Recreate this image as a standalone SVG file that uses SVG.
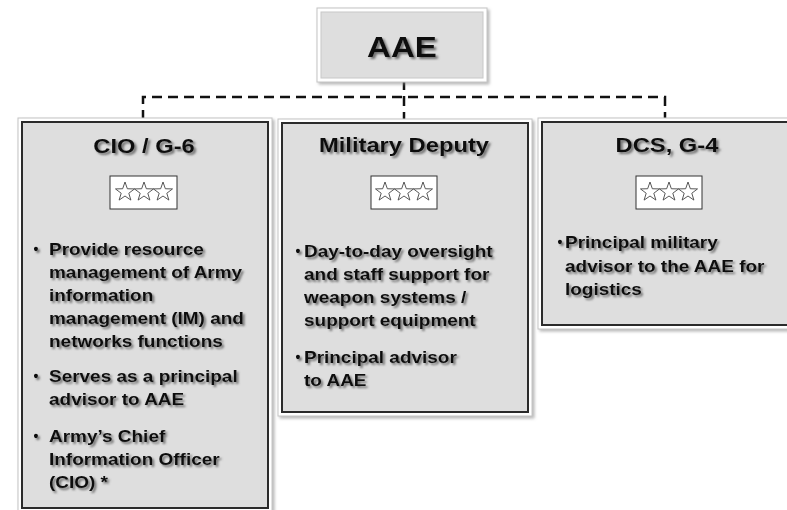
<svg xmlns="http://www.w3.org/2000/svg" width="787" height="510" viewBox="0 0 787 510">
  <style>
    .box { fill: #dedede; stroke: #2b2b2b; stroke-width: 2; }
    .bevel { fill: #ffffff; stroke: #c4c4c4; stroke-width: 1; }
    .title { font-family: "Liberation Sans", Arial, sans-serif; font-weight: bold; font-size: 21px; fill: #111; text-anchor: middle; }
    .aae { font-family: "Liberation Sans", Arial, sans-serif; font-weight: bold; font-size: 29px; fill: #111; text-anchor: middle; }
    .txt { font-family: "Liberation Sans", Arial, sans-serif; font-weight: bold; font-size: 16.5px; fill: #111; }
    .bul { font-family: "Liberation Sans", Arial, sans-serif; font-weight: bold; font-size: 14px; fill: #111; text-anchor: middle; }
    .rank { fill: #ffffff; stroke: #333; stroke-width: 1; }
    .star { fill: #ffffff; stroke: #444; stroke-width: 0.9; }
    .conn { fill: none; stroke: #111; stroke-width: 2.5; stroke-dasharray: 10 6; }
  </style>
  <defs>
    <filter id="tsh" x="-10%" y="-30%" width="130%" height="170%">
      <feDropShadow dx="2" dy="2" stdDeviation="1" flood-color="#555" flood-opacity="0.8"/>
    </filter>
    <filter id="bsh" x="-5%" y="-5%" width="115%" height="115%">
      <feDropShadow dx="2" dy="2" stdDeviation="1.5" flood-color="#888" flood-opacity="0.6"/>
    </filter>
    <path id="st" d="M0,-10 L2.35,-3.24 L9.51,-3.09 L3.8,1.24 L5.88,8.09 L0,4 L-5.88,8.09 L-3.8,1.24 L-9.51,-3.09 L-2.35,-3.24 Z"/>
    <g id="stars">
      <use href="#st" x="-19" class="star"/>
      <use href="#st" x="0" class="star"/>
      <use href="#st" x="19" class="star"/>
    </g>
  </defs>
  <rect width="787" height="510" fill="#ffffff"/>

  <g id="connectors">
    <path class="conn" d="M143,120 V97 H665 V120"/>
    <path class="conn" d="M404,80 V122"/>
  </g>

  <g id="aae">
    <rect x="317" y="8" width="170" height="74" class="bevel" filter="url(#bsh)"/>
    <rect x="321" y="12" width="162" height="66" fill="#dedede" stroke="#c8c8c8" stroke-width="1"/>
    <g transform="translate(402,57) scale(1.14,1)" filter="url(#tsh)">
      <text class="aae" x="0" y="0">AAE</text>
    </g>
  </g>

  <g id="cio">
    <rect x="18" y="118" width="254" height="394" class="bevel" filter="url(#bsh)"/>
    <rect x="22" y="122" width="246" height="386" class="box"/>
    <g transform="translate(144,153) scale(1.13,1)" filter="url(#tsh)">
      <text class="title" x="0" y="0">CIO / G-6</text>
    </g>
    <rect x="110" y="176" width="67" height="33" class="rank"/>
    <use href="#stars" x="144" y="192"/>
    <g filter="url(#tsh)">
      <text class="bul" x="36" y="254">•</text>
      <text class="bul" x="36" y="381">•</text>
      <text class="bul" x="36" y="441">•</text>
      <g transform="translate(49,0) scale(1.15,1)">
        <text class="txt" x="0" y="255">Provide resource</text>
        <text class="txt" x="0" y="278">management of Army</text>
        <text class="txt" x="0" y="301">information</text>
        <text class="txt" x="0" y="324">management (IM)  and</text>
        <text class="txt" x="0" y="347">networks  functions</text>
        <text class="txt" x="0" y="382">Serves as a principal</text>
        <text class="txt" x="0" y="405">advisor to AAE</text>
        <text class="txt" x="0" y="442">Army’s  Chief</text>
        <text class="txt" x="0" y="465">Information  Officer</text>
        <text class="txt" x="0" y="488">(CIO)  *</text>
      </g>
    </g>
  </g>

  <g id="military-deputy">
    <rect x="278" y="119" width="254" height="297" class="bevel" filter="url(#bsh)"/>
    <rect x="282" y="123" width="246" height="289" class="box"/>
    <g transform="translate(404,152) scale(1.13,1)" filter="url(#tsh)">
      <text class="title" x="0" y="0">Military Deputy</text>
    </g>
    <rect x="371" y="176" width="66" height="33" class="rank"/>
    <use href="#stars" x="404" y="192"/>
    <g filter="url(#tsh)">
      <text class="bul" x="298" y="256">•</text>
      <text class="bul" x="298" y="362">•</text>
      <g transform="translate(304,0) scale(1.15,1)">
        <text class="txt" x="0" y="257">Day-to-day  oversight</text>
        <text class="txt" x="0" y="280">and staff support for</text>
        <text class="txt" x="0" y="303">weapon systems /</text>
        <text class="txt" x="0" y="326">support equipment</text>
        <text class="txt" x="0" y="363">Principal  advisor</text>
        <text class="txt" x="0" y="386">to AAE</text>
      </g>
    </g>
  </g>

  <g id="dcs-g4">
    <rect x="538" y="118" width="260" height="211" class="bevel" filter="url(#bsh)"/>
    <rect x="542" y="122" width="252" height="203" class="box"/>
    <g transform="translate(667,152) scale(1.13,1)" filter="url(#tsh)">
      <text class="title" x="0" y="0">DCS, G-4</text>
    </g>
    <rect x="636" y="176" width="66" height="33" class="rank"/>
    <use href="#stars" x="669" y="192"/>
    <g filter="url(#tsh)">
      <text class="bul" x="560" y="247">•</text>
      <g transform="translate(565,0) scale(1.15,1)">
        <text class="txt" x="0" y="248">Principal  military</text>
        <text class="txt" x="0" y="272">advisor to the AAE for</text>
        <text class="txt" x="0" y="295">logistics</text>
      </g>
    </g>
  </g>
</svg>
